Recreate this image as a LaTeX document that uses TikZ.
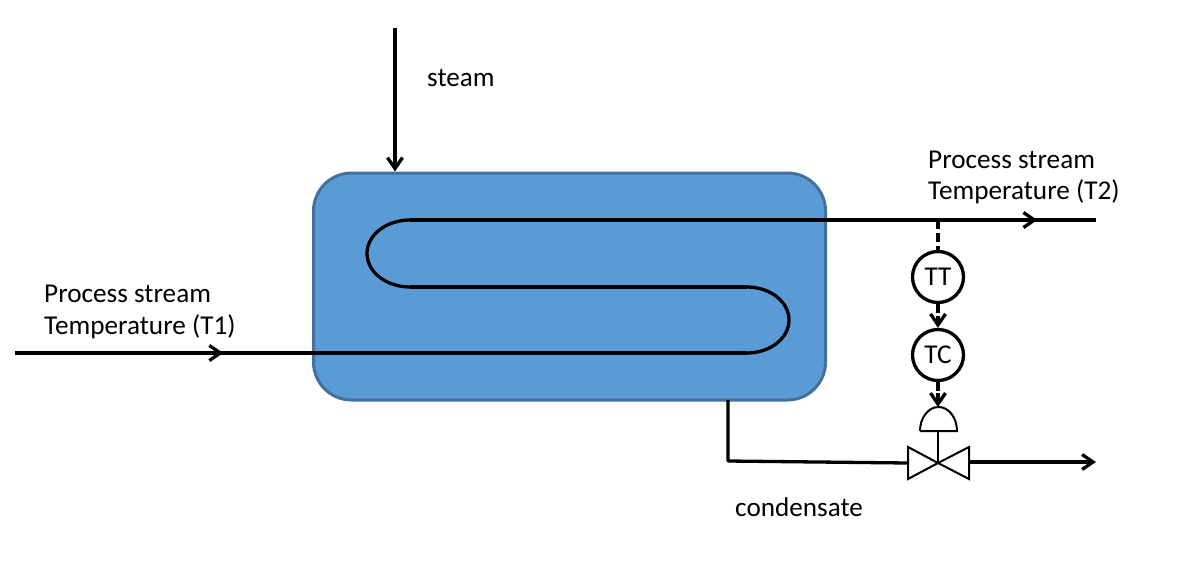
\documentclass[tikz,border=0pt]{standalone}
\usepackage{fontspec}
\setmainfont{Carlito}
\usetikzlibrary{arrows.meta,decorations.markings}
\definecolor{vesselfill}{HTML}{5B9BD5}
\definecolor{vesseledge}{HTML}{41719C}
\tikzset{
  pipe/.style={line width=3.3pt,black},
  barb/.tip={Straight Barb[length=11pt,width=15pt,line width=3.3pt]},
  endarrow/.style={pipe,-{barb}},
  signal/.style={line width=3.3pt,black,dash pattern=on 9pt off 4pt},
  midarrow/.style={postaction={decorate},decoration={markings,mark=at position #1 with {\arrow{barb}}}},
  lbl/.style={font=\fontsize{27.2}{31.5}\selectfont,align=left,anchor=west,inner sep=0pt,text=black},
  instr/.style={circle,draw=black,line width=3.3pt,fill=white,minimum size=51pt,inner sep=0pt,font=\fontsize{27.2}{27.2}\selectfont},
  thinpart/.style={line width=2pt,black,line join=miter}
}
\begin{document}
\begin{tikzpicture}[x=1pt,y=-1pt]
\useasboundingbox (0,0) rectangle (1190,568);
% vessel
\node[draw=vesseledge,fill=vesselfill,line width=3pt,rounded corners=38pt,minimum width=512pt,minimum height=227pt,inner sep=0pt] (V) at (569.5,286.5) {};
% named points
\coordinate (steamin) at (395,28);
\coordinate (steamend) at (V.north -| steamin);
\coordinate (t1in) at (15,353);
\coordinate (c1) at (747,353);
\coordinate (c2) at (747,287);
\coordinate (c3) at (410,287);
\coordinate (c4) at (410,220);
\coordinate (t2out) at (1096,220);
\coordinate (tap) at (938,220);
\coordinate (dr0) at (728,400);
\coordinate (dr1) at (728,461);
\coordinate (out) at (1096,462);
% process coil
\draw[pipe,midarrow=0.2845] (t1in) -- (c1);
\draw[pipe] (c1) arc[start angle=90,end angle=-90,x radius=42,y radius=33];
\draw[pipe] (c2) -- (c3);
\draw[pipe] (c3) arc[start angle=90,end angle=270,x radius=43,y radius=33.5];
\draw[pipe,midarrow=0.9145] (c4) -- (t2out);
% steam
\draw[endarrow] (steamin) -- (steamend);
% instruments
\node[instr] (TT) at (938,277) {TT};
\node[instr] (TC) at (938,355) {TC};
% valve
\coordinate (vc) at (938,463);
\coordinate (vl) at (908,463);
\coordinate (vr) at (969,462);
\draw[thinpart] (vc) -- (908,447) -- (908,479) -- cycle;
\draw[thinpart] (vc) -- (969,447) -- (969,479) -- cycle;
% actuator
\coordinate (ab) at (938,431);
\coordinate (at) at (938,407);
\draw[thinpart] (920,431) -- (957,431) arc[start angle=0,end angle=-180,x radius=18.5,y radius=24];
\draw[thinpart] (ab) -- (vc);
% signals
\draw[signal] (tap) -- (TT.north);
\draw[signal] (TT.south) -- (938,314);
\draw[pipe,-{barb}] (938,316) -- (TC.north);
\draw[signal] (TC.south) -- (938,391);
\draw[pipe,-{barb}] (938,393) -- (at);
% condensate
\draw[pipe,line join=round] (dr0) -- (dr1) -- (vl);
\draw[endarrow] (vr) -- (out);
% labels
\node[lbl] (steam) at (427,78) {steam};
\node[lbl] (T2) at (928,177.5) {Process stream\\Temperature (T2)};
\node[lbl] (T1) at (44,312) {Process stream\\Temperature (T1)};
\node[lbl] (cond) at (735,507.5) {condensate};
\end{tikzpicture}
\end{document}
